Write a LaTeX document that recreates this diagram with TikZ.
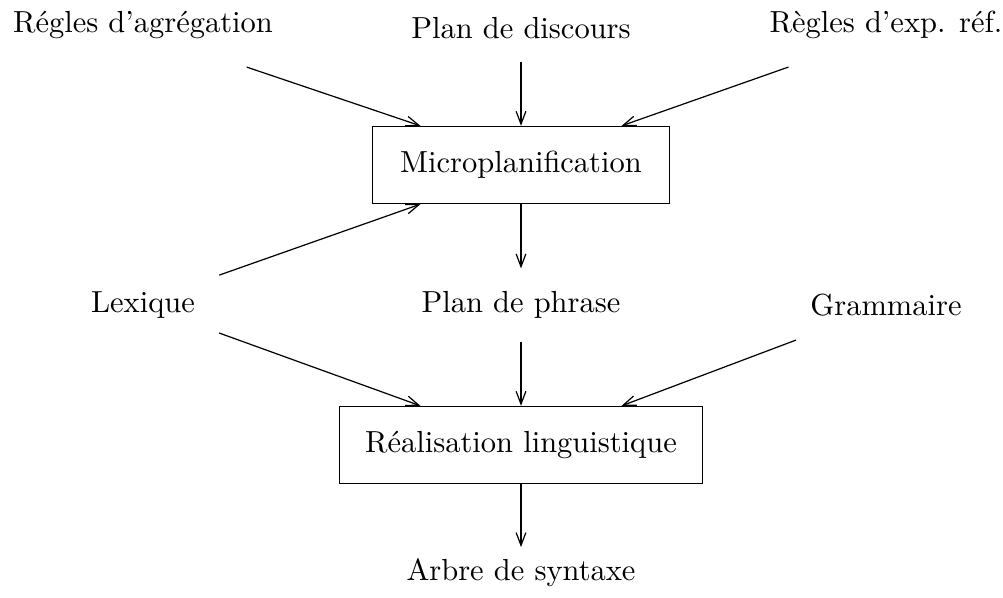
\documentclass[tikz,border=0pt]{standalone}
\usetikzlibrary{arrows.meta}

\begin{document}
\begin{tikzpicture}[x=0.328pt, y=-0.328pt,
  >={Straight Barb[length=4.2pt, width=3.2pt]},
  box/.style={draw, minimum height=25.3pt, inner xsep=0pt}]
\useasboundingbox (0,0) rectangle (1003,598);
% inputs of the first stage
\node (regagr) at (143,25) {R\'egles d'agr\'egation};
\node (plandisc) at (521,28) {Plan de discours};
\node (regexp) at (886,25) {R\`egles d'exp. r\'ef.};
\node[box, minimum width=97.4pt] (micro) at (521,165) {Microplanification};
% inputs of the second stage
\node (lexique) at (143,305) {Lexique};
\node (planphr) at (521,305) {Plan de phrase};
\node (grammaire) at (886,305) {Grammaire};
\node[box, minimum width=119pt] (real) at (521,445) {R\'ealisation linguistique};
\node (arbre) at (521,573) {Arbre de syntaxe};

\draw[->] ([xshift=34pt, yshift=-13.8pt]regagr.center) -- ([xshift=-33pt]micro.north);
\draw[->] ([yshift=-11pt]plandisc.center) -- (micro.north);
\draw[->] ([xshift=-32pt, yshift=-13.8pt]regexp.center) -- ([xshift=33pt]micro.north);
\draw[->] ([xshift=25pt, yshift=9.8pt]lexique.center) -- ([xshift=-33pt]micro.south);
\draw[->] (micro.south) -- ([yshift=12pt]planphr.center);
\draw[->] ([xshift=25pt, yshift=-9.2pt]lexique.center) -- ([xshift=-33pt]real.north);
\draw[->] ([yshift=-12pt]planphr.center) -- (real.north);
\draw[->] ([xshift=-29.5pt, yshift=-11.5pt]grammaire.center) -- ([xshift=33pt]real.north);
\draw[->] (real.south) -- ([yshift=8.5pt]arbre.center);
\end{tikzpicture}
\end{document}
